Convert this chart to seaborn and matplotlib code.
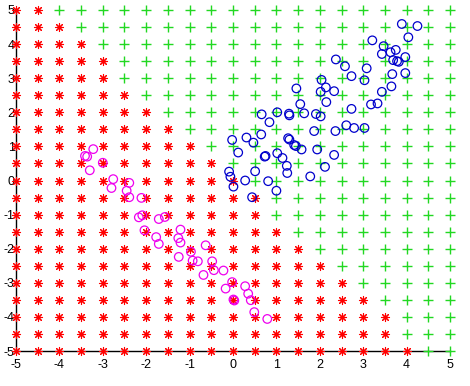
import numpy as np
import pandas as pd
import matplotlib
matplotlib.use("Agg")
import matplotlib.pyplot as plt
import seaborn as sns

# grid rows from y=5 down to y=-5, step 0.5; number of red points counted from x=-5
grid_y = [5, 4.5, 4, 3.5, 3, 2.5, 2, 1.5, 1, 0.5, 0,
          -0.5, -1, -1.5, -2, -2.5, -3, -3.5, -4, -4.5, -5]
grid_x = [-5, -4.5, -4, -3.5, -3, -2.5, -2, -1.5, -1, -0.5, 0,
          0.5, 1, 1.5, 2, 2.5, 3, 3.5, 4, 4.5, 5]
red_counts = [2, 3, 4, 5, 5, 6, 7, 8, 9, 10, 11,
              12, 12, 13, 14, 15, 16, 17, 18, 18, 19]

blue_x = [3.89, 4.25, 4.04, 3.21, 3.47, 3.43, 3.63, 3.75, 3.69, 3.82, 3.97, 3.78,
          2.37, 2.58, 3.08, 2.73, 3.03, 3.67, 3.97, 3.65, 3.43,
          2.04, 2.02, 2.14, 2.33, 1.46, 2.15, 1.55, 2.73, 3.18, 3.33,
          0.66, 1.02, 1.29, 1.30, 1.64, 1.91, 2.02, 0.84, 2.61, 2.79, 3.03, 2.36, 1.87,
          0.65, 0.31, 0.47, 1.27, 1.30, 1.41, 1.45, 1.58, 1.94, 0.12, -0.02,
          0.73, 0.75, 1.02, 1.14, 2.33, 1.24, 1.25, 2.12, 0.51, 1.78, 0.28, 0.81, 1.00,
          -0.09, -0.06, 0.01, 0.44]
blue_y = [4.59, 4.53, 4.20, 4.11, 3.94, 3.71, 3.76, 3.83, 3.53, 3.48, 3.62, 3.50,
          3.55, 3.35, 3.29, 3.06, 2.94, 3.12, 3.15, 2.76, 2.60,
          2.95, 2.60, 2.73, 2.62, 2.70, 2.30, 2.24, 2.10, 2.23, 2.26,
          1.94, 2.00, 1.96, 1.91, 1.97, 1.95, 1.88, 1.71, 1.62, 1.54, 1.54, 1.45, 1.45,
          1.35, 1.26, 1.11, 1.24, 1.20, 1.04, 1.01, 0.91, 0.91, 0.82, 1.19,
          0.70, 0.72, 0.80, 0.66, 0.75, 0.43, 0.22, 0.40, 0.27, 0.12, 0.00, -0.02, -0.30,
          0.26, 0.11, -0.18, -0.49]

magenta_x = [-3.22, -3.36, -3.41, -3.00, -3.30, -2.76, -2.80, -2.39, -2.45, -2.39, -2.11,
             -2.17, -2.09, -1.71, -1.57, -2.04, -1.77, -1.71, -1.21, -1.26, -1.21, -1.25,
             -0.97, -0.93, -0.81, -0.63, -0.48, -0.44, -0.22, -0.68, -0.02, -0.17,
             0.01, 0.28, 0.35, 0.41, 0.49, 0.79, 0.03]
magenta_y = [0.92, 0.70, 0.72, 0.52, 0.30, 0.04, -0.22, -0.07, -0.30, -0.49, -0.51,
             -1.08, -1.02, -1.13, -1.07, -1.46, -1.66, -1.86, -1.44, -1.69, -1.82, -2.24,
             -2.09, -2.35, -2.37, -1.90, -2.37, -2.63, -2.64, -2.77, -2.98, -3.17,
             -3.49, -3.10, -3.32, -3.51, -3.86, -4.06, -3.52]

ticks = [-5, -4, -3, -2, -1, 0, 1, 2, 3, 4, 5]

rows = []
for y, n in zip(grid_y, red_counts):
    for i, x in enumerate(grid_x):
        rows.append({"x": x, "y": y, "cls": "red" if i < n else "green"})
grid = pd.DataFrame(rows)
red = grid[grid.cls == "red"]
green = grid[grid.cls == "green"]

sns.set_style("white")
plt.rcParams["font.family"] = ["Liberation Sans", "DejaVu Sans"]
plt.rcParams["axes.unicode_minus"] = False

fig = plt.figure(figsize=(4.7, 3.86), dpi=100)
ax = fig.add_axes([16 / 470, 35 / 386, 434 / 470, 341 / 386])

sns.scatterplot(x=green.x, y=green.y, ax=ax, marker="+", color="#22d822",
                s=55, linewidth=1.0, clip_on=False, zorder=3)
sns.scatterplot(x=red.x, y=red.y, ax=ax, marker=(8, 2, 0), color="#ff0000",
                s=34, linewidth=0.8, clip_on=False, zorder=3)
sns.scatterplot(x=blue_x, y=blue_y, ax=ax, marker="o", facecolor="none",
                edgecolor="#0000cc", s=38, linewidth=0.9, zorder=4)
sns.scatterplot(x=magenta_x, y=magenta_y, ax=ax, marker="o", facecolor="none",
                edgecolor="#ee00ee", s=38, linewidth=0.9, zorder=4)

ax.set_xlim(-5, 5)
ax.set_ylim(-5, 5)
ax.set_xticks(ticks)
ax.set_yticks(ticks)
ax.set_xlabel("")
ax.set_ylabel("")
for side in ["top", "right"]:
    ax.spines[side].set_visible(False)
for side in ["left", "bottom"]:
    ax.spines[side].set_color("black")
    ax.spines[side].set_linewidth(1.0)
ax.tick_params(axis="both", direction="in", length=4, width=0.8,
               labelsize=9, colors="black")
ax.tick_params(axis="x", pad=6)
ax.tick_params(axis="y", pad=1)

fig.savefig("out.png", dpi=100)
